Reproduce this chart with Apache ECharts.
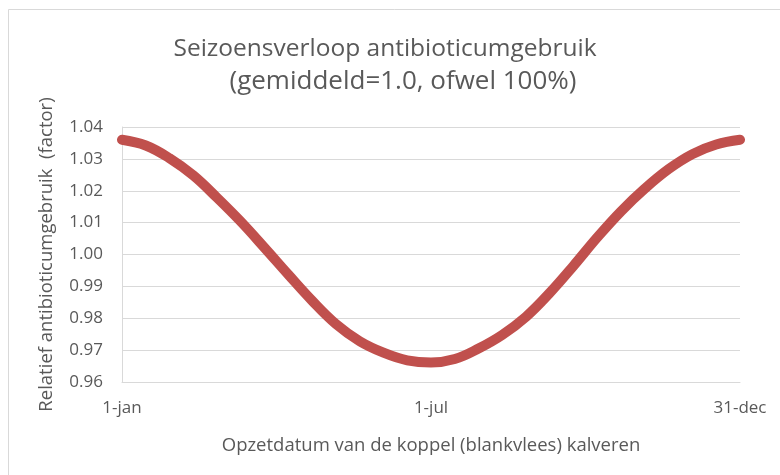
<!DOCTYPE html>
<html>
<head>
<meta charset="utf-8">
<script src="https://cdn.jsdelivr.net/npm/echarts@6/dist/echarts.min.js"></script>
<style>
  html, body { margin: 0; padding: 0; background: #fff; }
  #chart { width: 780px; height: 475px; }
</style>
</head>
<body>
<div id="chart"></div>
<script>
// dag van het jaar (0 = 1-jan) en relatieve factor
var days = [0, 14, 28, 42, 56, 70, 84, 98, 112, 126, 140, 154, 168, 182,
  196, 210, 224, 238, 252, 266, 280, 294, 308, 322, 336, 350, 364]
var factor = [1.0360, 1.0342, 1.0302, 1.0248, 1.0178, 1.0103, 1.0021, 0.9937,
  0.9855, 0.9782, 0.9728, 0.9692, 0.9668, 0.9661, 0.9672, 0.9705, 0.9748,
  0.9805, 0.9880, 0.9965, 1.0054, 1.0136, 1.0207, 1.0268, 1.0315, 1.0345, 1.0360]
var xTickDays = [0, 182, 364]
var xTickLabels = ['1-jan', '1-jul', '31-dec']

var font = '"Open Sans", "Noto Sans", sans-serif'
var textColor = '#595959'
var gridColor = '#d9d9d9'

var chart = echarts.init(document.getElementById('chart'))
chart.setOption({
  backgroundColor: '#fff',
  animation: false,
  title: [
    {
      text: 'Seizoensverloop antibioticumgebruik',
      left: 380,
      top: 32,
      textAlign: 'center',
      textStyle: { fontFamily: font, fontSize: 24.5, fontWeight: 'normal', color: textColor }
    },
    {
      text: '(gemiddeld=1.0, ofwel 100%)',
      left: 398,
      top: 64,
      textAlign: 'center',
      textStyle: { fontFamily: font, fontSize: 26, fontWeight: 'normal', color: textColor }
    }
  ],
  graphic: [
    {
      type: 'rect',
      shape: { x: 8.5, y: 9.5, width: 900, height: 900 },
      style: { fill: null, stroke: '#d9d9d9', lineWidth: 1 },
      silent: true
    }
  ],
  grid: { left: 122, right: 40, top: 127, bottom: 93 },
  xAxis: {
    type: 'value',
    min: 0,
    max: 364,
    interval: 182,
    name: 'Opzetdatum van de koppel (blankvlees) kalveren',
    nameLocation: 'middle',
    nameGap: 54,
    nameTextStyle: { fontFamily: font, fontSize: 18.5, color: textColor },
    axisLine: { show: true, lineStyle: { color: gridColor } },
    axisTick: { show: false },
    splitLine: { show: false },
    axisLabel: {
      margin: 18,
      fontFamily: font,
      fontSize: 17,
      color: textColor,
      formatter: function (v) {
        var i = xTickDays.indexOf(v)
        return i >= 0 ? xTickLabels[i] : ''
      }
    }
  },
  yAxis: {
    type: 'value',
    min: 0.96,
    max: 1.04,
    interval: 0.01,
    name: 'Relatief antibioticumgebruik  (factor)',
    nameLocation: 'middle',
    nameRotate: 90,
    nameGap: 66,
    nameTextStyle: { fontFamily: font, fontSize: 18.5, color: textColor },
    axisLine: { show: true, lineStyle: { color: gridColor } },
    axisTick: { show: false },
    splitLine: { show: true, lineStyle: { color: gridColor } },
    axisLabel: {
      margin: 19,
      fontFamily: font,
      fontSize: 17,
      color: textColor,
      formatter: function (v) { return v.toFixed(2) }
    }
  },
  series: [
    {
      type: 'line',
      data: days.map(function (d, i) { return [d, factor[i]] }),
      smooth: 0.4,
      showSymbol: false,
      lineStyle: { color: '#c0504d', width: 10, cap: 'round' },
      itemStyle: { color: '#c0504d' }
    }
  ]
})
</script>
</body>
</html>
